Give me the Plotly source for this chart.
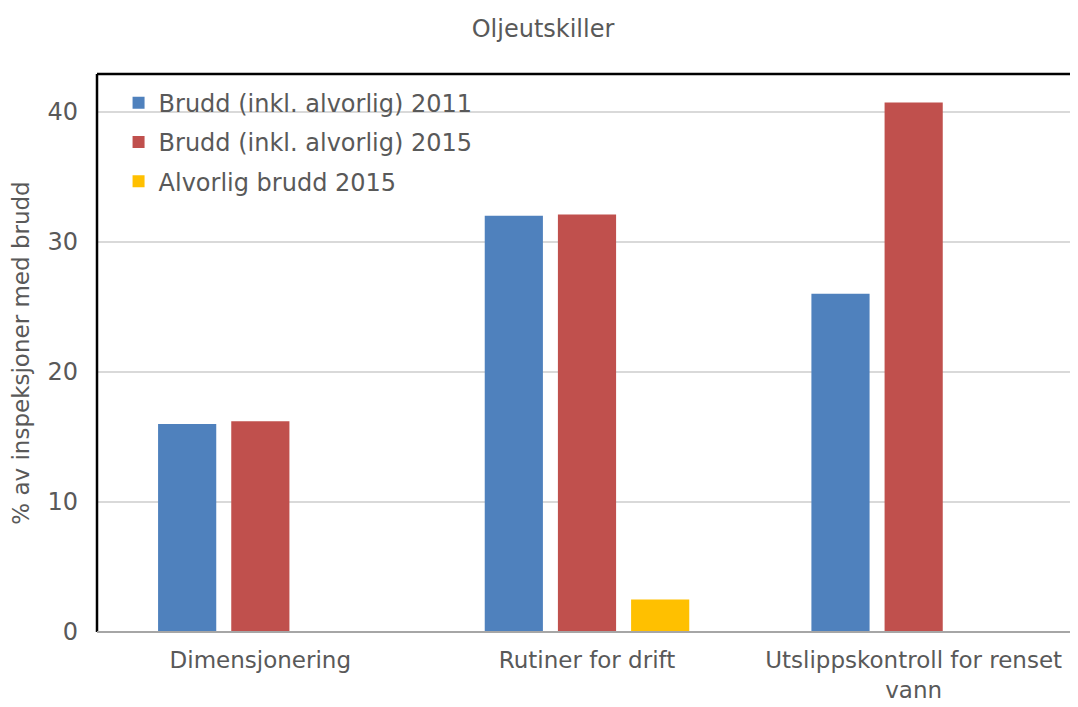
import plotly.graph_objects as go

categories = ["Dimensjonering", "Rutiner for drift", "Utslippskontroll for renset<br>vann"]
series_names = ["Brudd (inkl. alvorlig) 2011", "Brudd (inkl. alvorlig) 2015", "Alvorlig brudd 2015"]
brudd_2011 = [16.0, 32.0, 26.0]
brudd_2015 = [16.2, 32.1, 40.7]
alvorlig_2015 = [0, 2.5, 0]
colors = ["#4F81BD", "#C0504D", "#FFC000"]
yticks = [0, 10, 20, 30, 40]

font_family = "DejaVu Sans, Verdana, sans-serif"
txt = "#595959"

fig = go.Figure()
for i, (name, vals, col) in enumerate(zip(series_names, [brudd_2011, brudd_2015, alvorlig_2015], colors)):
    fig.add_trace(go.Bar(x=categories, y=vals, name=name, marker_color=col,
                         marker_line_width=0, legendgroup=f"g{i}"))

# page body has an 8px margin, so the figure is 8px smaller and margins compensate
fig.update_layout(
    width=1070, height=699,
    margin=dict(l=89, r=1, t=66, b=75, autoexpand=False),
    paper_bgcolor="white", plot_bgcolor="white",
    barmode="group", bargap=0.328, bargroupgap=0.205,
    title=dict(text="Oljeutskiller", x=0.5, xanchor="center", y=0.971, yanchor="middle",
               font=dict(family=font_family, size=24, color=txt)),
    font=dict(family=font_family, color=txt),
    legend=dict(x=0.022, y=0.988, xanchor="left", yanchor="top",
                font=dict(size=24, color=txt), bgcolor="rgba(0,0,0,0)",
                itemwidth=30, tracegroupgap=5, traceorder="grouped"),
    showlegend=True,
)
fig.update_yaxes(range=[0, 42.9], tickvals=yticks, showgrid=True, gridcolor="#D9D9D9",
                 gridwidth=1.5, zeroline=False, showline=False, automargin=False,
                 tickfont=dict(size=24, color=txt), ticks="", ticklabelstandoff=18,
                 title=dict(text="% av inspeksjoner med brudd", font=dict(size=23, color=txt), standoff=14))
fig.update_xaxes(showgrid=False, showline=False, ticks="", ticklabelstandoff=12, automargin=False,
                 tickfont=dict(size=23, color=txt))

# plot-area frame: black top/left, gray right/bottom
fig.add_shape(type="line", xref="paper", yref="paper", x0=0, x1=1, y0=1, y1=1,
              line=dict(color="black", width=2.5))
fig.add_shape(type="line", xref="paper", yref="paper", x0=0, x1=0, y0=0, y1=1,
              line=dict(color="black", width=2.5))
fig.add_shape(type="line", xref="paper", yref="paper", x0=1, x1=1, y0=0, y1=1,
              line=dict(color="#A6A6A6", width=1.5))
fig.add_shape(type="line", xref="paper", yref="paper", x0=0, x1=1, y0=0, y1=0,
              line=dict(color="#A6A6A6", width=2))

fig.write_html("out.html")
